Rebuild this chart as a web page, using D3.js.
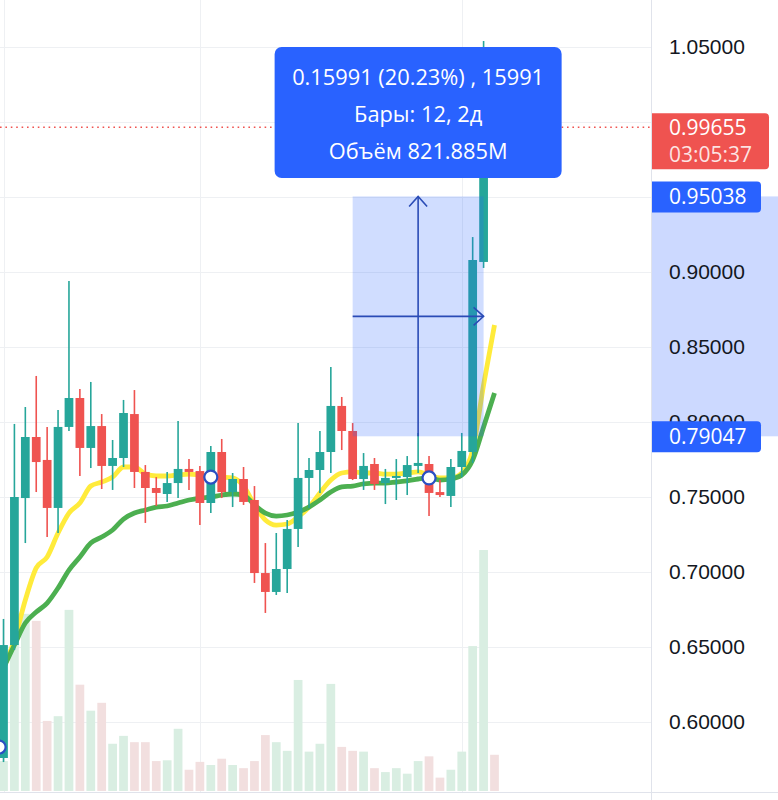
<!DOCTYPE html>
<html lang="ru">
<head>
    <meta charset="UTF-8">
    <title>Свечной график</title>
    <script src="https://d3js.org/d3.v7.min.js"></script>
    <style>
        body {
            margin: 0;
            background: #fff;
        }
        svg {
            display: block;
            font-family: "Open Sans", "Noto Sans", sans-serif;
        }
        .price-axis text {
            font-size: 21px;
            fill: #131722;
        }
    </style>
</head>
<body>

    <svg width="778" height="800"></svg>

    <script>
        // Candles, oldest first (prices)
        let opens = [0.576, 0.6513, 0.7493, 0.79, 0.7747, 0.7427, 0.7967, 0.816, 0.7827, 0.7973,
            0.7707, 0.776, 0.8053, 0.7667, 0.756, 0.752, 0.7593, 0.7687, 0.7673, 0.746,
            0.78, 0.7533, 0.762, 0.748, 0.6993, 0.6867, 0.702, 0.7287, 0.7627, 0.768,
            0.78, 0.8107, 0.794, 0.762, 0.772, 0.7593, 0.7627, 0.7633, 0.7707, 0.772,
            0.7533, 0.7507, 0.77, 0.78, 0.9067, 1.012];
        let highs = [0.6687, 0.7987, 0.81, 0.8307, 0.7967, 0.808, 0.894, 0.822, 0.8267, 0.8053,
            0.788, 0.8147, 0.8213, 0.7713, 0.7633, 0.7667, 0.8007, 0.7753, 0.7707, 0.784,
            0.7887, 0.766, 0.77, 0.7573, 0.7193, 0.726, 0.7347, 0.7993, 0.776, 0.794,
            0.8367, 0.8167, 0.7993, 0.7793, 0.776, 0.7687, 0.7753, 0.7773, 0.7927, 0.7773,
            0.7613, 0.7753, 0.7927, 0.9233, 1.054, 1.02];
        let lows = [0.5733, 0.648, 0.7193, 0.7533, 0.7233, 0.726, 0.794, 0.764, 0.7693, 0.7553,
            0.7547, 0.77, 0.756, 0.7327, 0.744, 0.7467, 0.7493, 0.7547, 0.7313, 0.7393,
            0.7493, 0.7433, 0.7447, 0.6927, 0.6727, 0.6847, 0.686, 0.7167, 0.7427, 0.7527,
            0.766, 0.7813, 0.7613, 0.7547, 0.7547, 0.7453, 0.748, 0.7513, 0.766, 0.7373,
            0.75, 0.7433, 0.7633, 0.7727, 0.9027, 0.99];
        let closes = [0.6513, 0.75, 0.79, 0.7733, 0.7427, 0.7967, 0.816, 0.7827, 0.7973, 0.7707,
            0.776, 0.806, 0.7667, 0.756, 0.7527, 0.7593, 0.7687, 0.7667, 0.746, 0.78,
            0.7533, 0.762, 0.7467, 0.6993, 0.6867, 0.702, 0.7287, 0.7627, 0.768, 0.78,
            0.8107, 0.794, 0.762, 0.7707, 0.7587, 0.7627, 0.764, 0.7713, 0.7727, 0.7527,
            0.7513, 0.77, 0.7807, 0.908, 1.012, 0.99655];

        // Volume per bar, millions
        let volumes = [38, 225, 225, 216, 89, 95, 230, 135, 102, 112,
            60, 70, 62, 62, 38, 39, 79, 27, 37, 33,
            41, 33, 29, 38, 71, 62, 51, 141, 50, 60,
            136, 56, 51, 50, 29, 24, 29, 22, 38, 44,
            17, 27, 50, 184, 306, 46];

        // Moving averages (yellow = fast, green = slow)
        let maFast = [0.636, 0.6547, 0.6813, 0.7027, 0.71, 0.726, 0.7393, 0.746, 0.7573, 0.76,
            0.7633, 0.77, 0.77, 0.7653, 0.764, 0.764, 0.7647, 0.7653, 0.7647, 0.764,
            0.7633, 0.7627, 0.7573, 0.7447, 0.7347, 0.7313, 0.732, 0.7367, 0.7433, 0.7527,
            0.7613, 0.766, 0.7667, 0.766, 0.766, 0.7653, 0.7653, 0.766, 0.7667, 0.7647,
            0.7627, 0.7627, 0.766, 0.7813, 0.8247, 0.8647];
        let maSlow = [0.636, 0.6513, 0.666, 0.6733, 0.6793, 0.6893, 0.7013, 0.71, 0.7193, 0.7233,
            0.728, 0.7353, 0.7393, 0.7413, 0.7433, 0.744, 0.746, 0.748, 0.7493, 0.75,
            0.7513, 0.752, 0.7513, 0.7447, 0.7393, 0.7373, 0.738, 0.74, 0.7433, 0.748,
            0.7533, 0.7567, 0.7573, 0.7587, 0.7593, 0.7593, 0.76, 0.7607, 0.762, 0.7627,
            0.7613, 0.762, 0.7647, 0.7747, 0.7967, 0.8193];

        let priceTicks = [0.60, 0.65, 0.70, 0.75, 0.80, 0.85, 0.90, 0.95, 1.00, 1.05];
        // these two tick labels sit under the price labels, so they are not drawn
        let hiddenTicks = [0.95, 1.00];
        let timeGridBars = [0, 18, 42];

        // Event circles on the chart
        let markerBars = [-0.4, 19, 39];
        let markerPrices = [0.5833, 0.7633, 0.7627];

        let lastPrice = 0.99655;
        let lastPriceTimer = "03:05:37";

        // Price range measurement
        let rangeStartBar = 32, rangeEndBar = 44;
        let rangeLow = 0.79047, rangeHigh = 0.95038;
        let tooltipLines = ["0.15991 (20.23%) , 15991", "Бары: 12, 2д", "Объём 821.885M"];

        let width = 778, height = 800;
        let plotRight = 651;
        let volBase = 791;

        let upColor = "#26a69a", downColor = "#ef5350";
        let blue = "#2962ff";

        let svg = d3.select("svg");

        let x = d3.scaleLinear()
            .domain([0, 45])
            .range([3.5, 494.5]);
        let y = d3.scaleLinear()
            .domain([0.60, 1.05])
            .range([722, 47]);
        let yVol = d3.scaleLinear()
            .domain([0, 400])
            .range([volBase, volBase - 315]);

        let step = x(1) - x(0);
        let barW = step * 0.8;
        let bars = d3.range(opens.length);

        svg.append("rect")
            .attr("width", width)
            .attr("height", height)
            .attr("fill", "#fff");

        // Grid
        svg.append("g")
            .selectAll("line")
            .data(priceTicks)
            .join("line")
            .attr("x1", 0)
            .attr("x2", plotRight)
            .attr("y1", d => Math.round(y(d)) + 0.5)
            .attr("y2", d => Math.round(y(d)) + 0.5)
            .attr("stroke", "#eef0f3");

        svg.append("g")
            .selectAll("line")
            .data(timeGridBars)
            .join("line")
            .attr("x1", d => Math.round(x(d)) + 0.5)
            .attr("x2", d => Math.round(x(d)) + 0.5)
            .attr("y1", 0)
            .attr("y2", volBase + 1)
            .attr("stroke", "#eef0f3");

        // Volume
        svg.append("g")
            .selectAll("rect")
            .data(bars)
            .join("rect")
            .attr("x", i => x(i) - barW / 2)
            .attr("y", i => yVol(volumes[i]))
            .attr("width", barW)
            .attr("height", i => volBase - yVol(volumes[i]))
            .attr("fill", i => closes[i] >= opens[i] ? "#d9eee2" : "#f2dfdf");

        // Moving averages, green drawn over yellow
        let maLine = d3.line()
            .x((d, i) => x(i))
            .y(d => y(d))
            .curve(d3.curveMonotoneX);

        svg.append("path")
            .attr("d", maLine(maFast))
            .attr("fill", "none")
            .attr("stroke", "#ffeb3b")
            .attr("stroke-width", 4.8)
            .attr("stroke-linejoin", "round");

        svg.append("path")
            .attr("d", maLine(maSlow))
            .attr("fill", "none")
            .attr("stroke", "#4caf50")
            .attr("stroke-width", 4.8)
            .attr("stroke-linejoin", "round");

        // Candles
        let candles = svg.append("g")
            .selectAll("g")
            .data(bars)
            .join("g")
            .attr("fill", i => closes[i] >= opens[i] ? upColor : downColor)
            .attr("stroke", i => closes[i] >= opens[i] ? upColor : downColor);

        candles.append("line")
            .attr("x1", i => x(i))
            .attr("x2", i => x(i))
            .attr("y1", i => y(highs[i]))
            .attr("y2", i => y(lows[i]))
            .attr("stroke-width", 1.6);

        candles.append("rect")
            .attr("x", i => x(i) - barW / 2)
            .attr("y", i => y(Math.max(opens[i], closes[i])))
            .attr("width", barW)
            .attr("height", i => Math.max(1.5, Math.abs(y(opens[i]) - y(closes[i]))))
            .attr("stroke", "none");

        // Event markers
        svg.append("g")
            .selectAll("circle")
            .data(markerBars)
            .join("circle")
            .attr("cx", d => x(d))
            .attr("cy", (d, i) => y(markerPrices[i]))
            .attr("r", 6.5)
            .attr("fill", "#fff")
            .attr("stroke", "#2b4fc2")
            .attr("stroke-width", 2.2);

        // Measurement box and arrows
        let bx0 = x(rangeStartBar), bx1 = x(rangeEndBar);
        let by0 = y(rangeHigh), by1 = y(rangeLow);
        let bxm = (bx0 + bx1) / 2, bym = (by0 + by1) / 2;
        let arrowColor = "#2a4bb6";

        svg.append("rect")
            .attr("x", bx0)
            .attr("y", by0)
            .attr("width", bx1 - bx0)
            .attr("height", by1 - by0)
            .attr("fill", blue)
            .attr("fill-opacity", 0.22);

        let arrows = svg.append("g")
            .attr("stroke", arrowColor)
            .attr("stroke-width", 1.6)
            .attr("fill", "none");

        arrows.append("line")
            .attr("x1", bxm).attr("x2", bxm)
            .attr("y1", by1).attr("y2", by0);
        arrows.append("path")
            .attr("d", `M${bxm - 9},${by0 + 10}L${bxm},${by0}L${bxm + 9},${by0 + 10}`);
        arrows.append("line")
            .attr("x1", bx0).attr("x2", bx1)
            .attr("y1", bym).attr("y2", bym);
        arrows.append("path")
            .attr("d", `M${bx1 - 10},${bym - 9}L${bx1},${bym}L${bx1 - 10},${bym + 9}`);

        // Last price line
        svg.append("line")
            .attr("x1", 0)
            .attr("x2", plotRight)
            .attr("y1", y(lastPrice))
            .attr("y2", y(lastPrice))
            .attr("stroke", downColor)
            .attr("stroke-width", 1.6)
            .attr("stroke-dasharray", "1.6 3.8");

        // Tooltip
        let tip = svg.append("g");
        let tipW = 287, tipH = 131, tipTop = 47;
        tip.append("rect")
            .attr("x", bxm - tipW / 2)
            .attr("y", tipTop)
            .attr("width", tipW)
            .attr("height", tipH)
            .attr("rx", 7)
            .attr("fill", blue);
        tip.selectAll("text")
            .data(tooltipLines)
            .join("text")
            .attr("x", bxm)
            .attr("y", (d, i) => tipTop + 38 + i * 37)
            .attr("text-anchor", "middle")
            .attr("fill", "#fff")
            .attr("font-size", 21.8)
            .text(d => d);

        // Price scale
        svg.append("rect")
            .attr("x", plotRight)
            .attr("y", by0)
            .attr("width", width - plotRight)
            .attr("height", by1 - by0)
            .attr("fill", blue)
            .attr("fill-opacity", 0.24);

        let axis = svg.append("g")
            .attr("class", "price-axis")
            .attr("transform", `translate(${plotRight}, 0)`)
            .call(d3.axisRight(y)
                .tickValues(priceTicks.filter(d => !hiddenTicks.includes(d)))
                .tickFormat(d3.format(".5f"))
                .tickSize(0)
                .tickPadding(18));
        axis.select(".domain").remove();

        svg.append("line")
            .attr("x1", plotRight + 0.5).attr("x2", plotRight + 0.5)
            .attr("y1", 0).attr("y2", height)
            .attr("stroke", "#e0e3eb");
        svg.append("line")
            .attr("x1", 0).attr("x2", width)
            .attr("y1", volBase + 1.5).attr("y2", volBase + 1.5)
            .attr("stroke", "#e0e3eb");

        // Labels on the price scale, square on the left, rounded on the right
        function labelShape(x0, y0, w, h, r) {
            return `M${x0},${y0}H${x0 + w - r}Q${x0 + w},${y0} ${x0 + w},${y0 + r}` +
                `V${y0 + h - r}Q${x0 + w},${y0 + h} ${x0 + w - r},${y0 + h}H${x0}Z`;
        }

        [rangeHigh, rangeLow].forEach(function (v) {
            let cy = y(v);
            svg.append("path")
                .attr("d", labelShape(plotRight + 1, cy - 15, 109, 31, 4))
                .attr("fill", blue);
            svg.append("text")
                .attr("x", plotRight + 18)
                .attr("y", cy)
                .attr("dy", "0.35em")
                .attr("fill", "#fff")
                .attr("font-size", 21)
                .text(d3.format(".5f")(v));
        });

        let ly = y(lastPrice);
        svg.append("path")
            .attr("d", labelShape(plotRight + 1, ly - 14, 117, 56, 4))
            .attr("fill", downColor);
        svg.append("text")
            .attr("x", plotRight + 18)
            .attr("y", ly)
            .attr("dy", "0.35em")
            .attr("fill", "#fff")
            .attr("font-size", 21)
            .text(d3.format(".5f")(lastPrice));
        svg.append("text")
            .attr("x", plotRight + 18)
            .attr("y", ly + 27)
            .attr("dy", "0.35em")
            .attr("fill", "#fff")
            .attr("fill-opacity", 0.85)
            .attr("font-size", 21)
            .text(lastPriceTimer);
    </script>

</body>
</html>
